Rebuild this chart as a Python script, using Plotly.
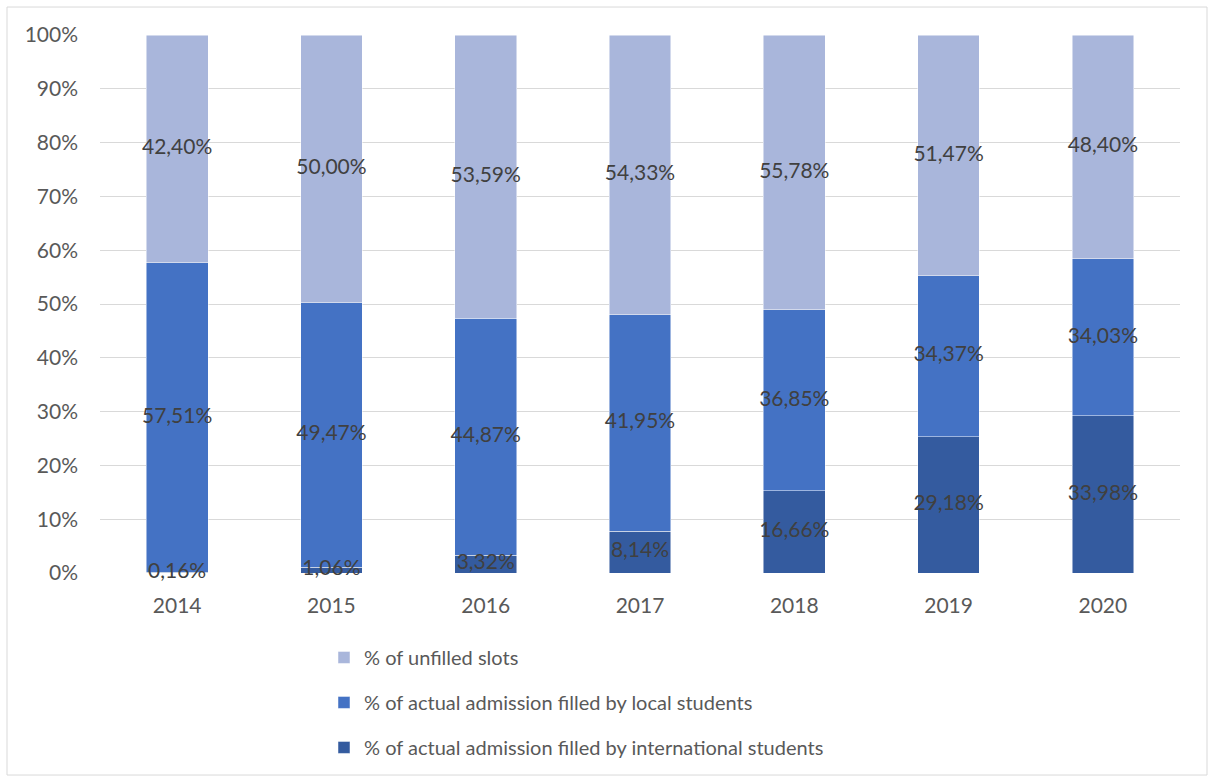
import plotly.graph_objects as go

years = ["2014", "2015", "2016", "2017", "2018", "2019", "2020"]
international = [0.16, 1.06, 3.32, 8.14, 16.66, 29.18, 33.98]
local = [57.51, 49.47, 44.87, 41.95, 36.85, 34.37, 34.03]
unfilled = [42.40, 50.00, 53.59, 54.33, 55.78, 51.47, 48.40]

names = [
    "% of actual admission filled by international students",
    "% of actual admission filled by local students",
    "% of unfilled slots",
]
colors = ["#345B9F", "#4472C4", "#A9B6DB"]
ranks = [3, 2, 1]
series = [international, local, unfilled]


def fmt(v):
    return f"{v:.2f}".replace(".", ",") + "%"


FONT = "Lato, Calibri, Arial, sans-serif"
fig = go.Figure()
for name, vals, col, rk in zip(names, series, colors, ranks):
    fig.add_trace(go.Bar(
        x=years, y=vals, name=name,
        marker=dict(color=col, line=dict(color="rgba(255,255,255,0.6)", width=0.8)),
        legendgroup=name, legendrank=rk, hoverinfo="skip",
    ))

# data labels (drawn above all bars), centred in each normalised segment
totals = [sum(t) for t in zip(*series)]
base = [0.0] * len(years)
for vals in series:
    centers = []
    for i, v in enumerate(vals):
        share = v / totals[i] * 100
        centers.append(base[i] + share / 2)
        base[i] += share
    fig.add_trace(go.Scatter(
        x=years, y=centers, mode="text", text=[fmt(v) for v in vals],
        textposition="middle center", cliponaxis=False, showlegend=False,
        textfont=dict(color="#404040", size=21, family=FONT), hoverinfo="skip",
    ))

fig.update_layout(
    width=1212, height=778,
    barmode="stack", barnorm="percent", bargap=0.6,
    paper_bgcolor="white", plot_bgcolor="white",
    margin=dict(l=100, r=32, t=35, b=205, autoexpand=False),
    font=dict(family=FONT, size=20, color="#595959"),
    showlegend=True,
    legend=dict(
        orientation="v", traceorder="grouped", tracegroupgap=16,
        x=0.2074, xanchor="left", y=0.18, yref="container", yanchor="top",
        font=dict(size=20, color="#595959", family=FONT),
        bgcolor="rgba(0,0,0,0)",
    ),
    xaxis=dict(type="category", showgrid=False, showline=False, zeroline=False,
               ticks="", ticklabelstandoff=18, automargin=False,
               tickfont=dict(size=21, color="#595959")),
    yaxis=dict(range=[0, 100], dtick=10, ticksuffix="%", showgrid=True,
               gridcolor="#D9D9D9", gridwidth=1, zeroline=False, showline=False,
               ticks="", ticklabelstandoff=21, automargin=False,
               tickfont=dict(size=21, color="#595959")),
    shapes=[dict(type="rect", xref="paper", yref="paper",
                 x0=-0.0861, x1=1.025, y0=-0.3755, y1=1.052,
                 line=dict(color="#D9D9D9", width=1), fillcolor="rgba(0,0,0,0)",
                 layer="below")],
)

fig.write_html("out.html", config={"displayModeBar": False},
               post_script="document.body.style.margin='0';document.body.style.overflow='hidden';")
